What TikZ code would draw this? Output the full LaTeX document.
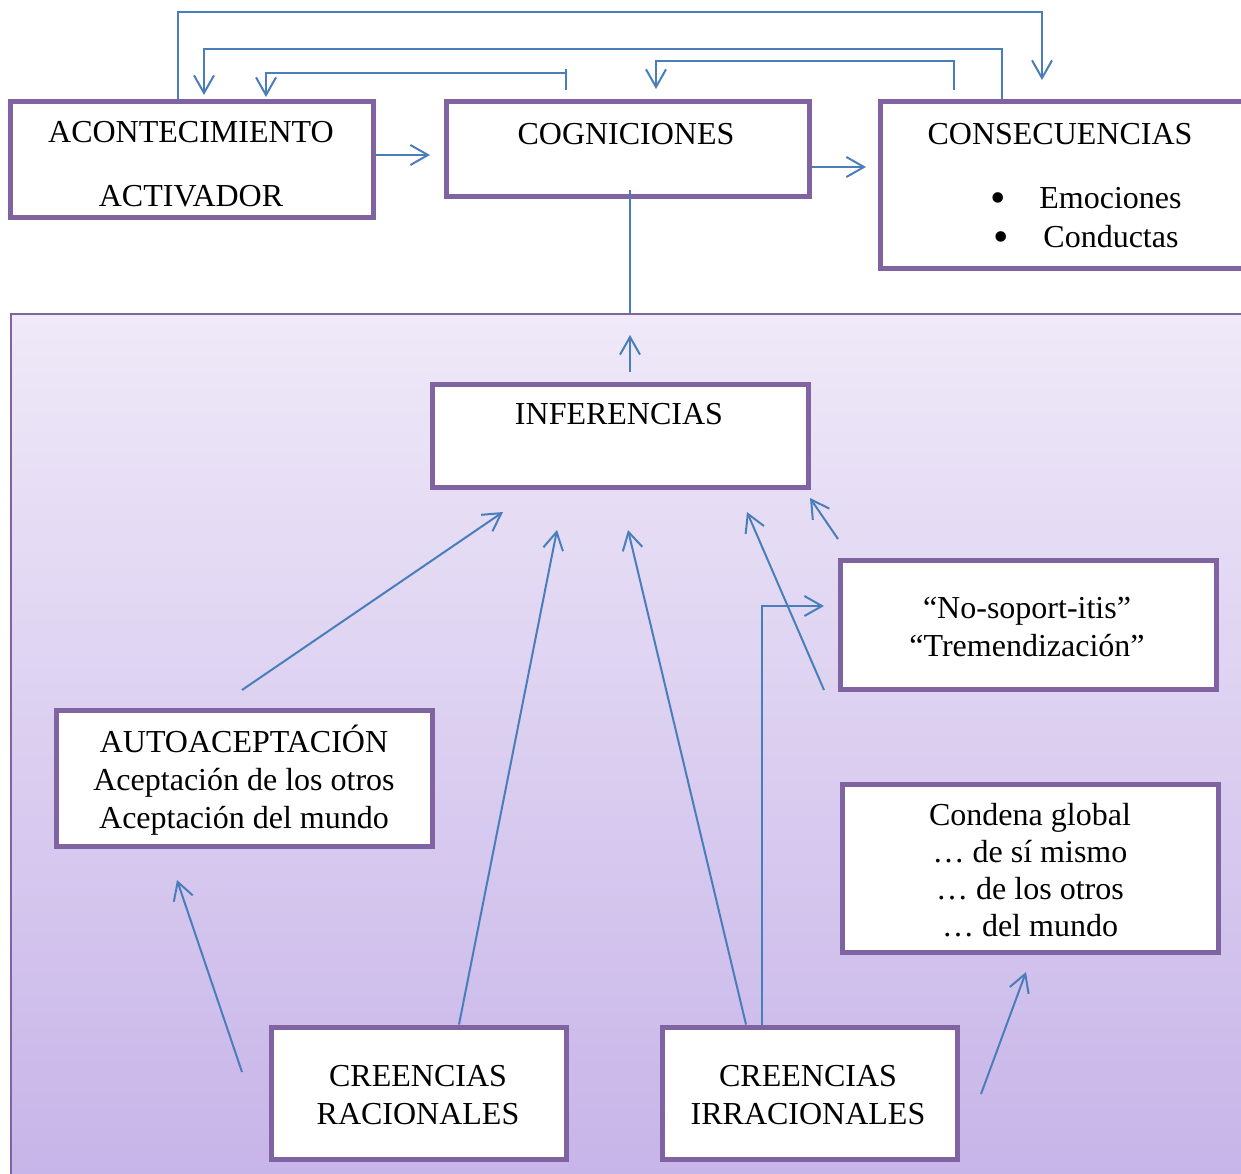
\documentclass[tikz,border=0pt]{standalone}
\usepackage{fontspec}
\setmainfont{Liberation Serif}
\usetikzlibrary{arrows.meta}
\definecolor{lila}{HTML}{8064A2}
\definecolor{azul}{HTML}{4A7EBB}
\definecolor{fondoarriba}{HTML}{EFE9F8}
\definecolor{fondoabajo}{HTML}{C6B3E8}
\begin{document}
\begin{tikzpicture}[x=0.5pt,y=-0.5pt,
  caja/.style={draw=lila,line width=2.5pt,fill=white,inner sep=0pt},
  texto/.style={anchor=base,align=center,inner sep=0pt,font=\fontsize{16}{19}\selectfont},
  bloque/.style={texto,anchor=center},
  punto/.style={anchor=center,inner sep=0pt,font=\fontsize{22}{22}\selectfont},
  flecha/.style={draw=azul,line width=1pt,-{Straight Barb[length=8.8pt,width=10pt]}},
  linea/.style={draw=azul,line width=1pt}]
\useasboundingbox (0,0) rectangle (1241,1173);

% fondo
\shade[top color=fondoarriba,bottom color=fondoabajo,draw=lila,line width=1pt] (11,314) rectangle (1262,1200);

% cajas de arriba
\node[caja,minimum width=181.5pt,minimum height=58pt] (act) at (191.5,159) {};
\node[caja,minimum width=181.5pt,minimum height=47.5pt] (cog) at (627.5,148.5) {};
\node[caja,minimum width=185pt,minimum height=83.5pt] (cons) at (1065,184.5) {};

\node[texto] (tact) at (191,142) {ACONTECIMIENTO};
\node[texto] (tact2) at (191,206) {ACTIVADOR};
\node[texto] (tcog) at (626,144) {COGNICIONES};
\node[texto] (tcons) at (1060,144) {CONSECUENCIAS};
\node[punto] (b1) at (998,203) {\textbullet};
\node[punto] (b2) at (1001,242) {\textbullet};
\node[texto,anchor=base west] (emo) at (1039,208) {Emociones};
\node[texto,anchor=base west] (con) at (1043,247) {Conductas};

% cajas del fondo
\node[caja,minimum width=188pt,minimum height=51.5pt] (inf) at (620,435.5) {};
\node[caja,minimum width=188pt,minimum height=64.5pt] (nosop) at (1028,624.5) {};
\node[caja,minimum width=188pt,minimum height=68pt] (auto) at (244,778) {};
\node[caja,minimum width=188pt,minimum height=84pt] (cond) at (1030,868) {};
\node[caja,minimum width=147.5pt,minimum height=66pt] (rac) at (418.5,1093) {};
\node[caja,minimum width=147.5pt,minimum height=66pt] (irr) at (809.5,1093) {};

\node[texto] (tinf) at (619,424) {INFERENCIAS};
\node[bloque] (tnosop) at (1027,627) {“No-soport-itis”\\“Tremendización”};
\node[bloque] (tauto) at (244,780) {AUTOACEPTACIÓN\\Aceptación de los otros\\Aceptación del mundo};
\node[bloque,font=\fontsize{16}{18.5}\selectfont] (tcond) at (1030,870) {Condena global\\… de sí mismo\\… de los otros\\… del mundo};
\node[bloque] (trac) at (418,1095) {CREENCIAS\\RACIONALES};
\node[bloque] (tirr) at (808,1095) {CREENCIAS\\IRRACIONALES};

% conexiones de arriba
\coordinate (p1) at (1042,80);
\coordinate (p2) at (204,95);
\coordinate (p3) at (266,97);
\coordinate (p4) at (656,89);
\draw[flecha] (act.north -| 178,0) -- (178,12) -| (p1);
\draw[flecha] (cons.north -| 1002,0) -- (1002,49) -| (p2);
\draw[flecha] (566,73) -| (p3);
\draw[linea] (566,69) -- (566,90);
\draw[flecha] (954,90) -- (954,61) -| (p4);
\draw[flecha] (act.east |- 0,155) -- (430,155);
\draw[flecha] (cog.east |- 0,167) -- (866,167);
\draw[linea] (630,190) -- (630,313);
\draw[flecha] (630,372) -- (630,335);

% flechas del fondo
\coordinate (q1) at (242,690);
\coordinate (q2) at (503,512);
\coordinate (q3) at (557,530);
\coordinate (q4) at (628,530);
\coordinate (q5) at (824,690);
\coordinate (q6) at (747,512);
\coordinate (q7) at (838,539);
\coordinate (q8) at (810,498);
\coordinate (q9) at (242,1072);
\coordinate (q10) at (177,880);
\coordinate (q11) at (981,1094);
\coordinate (q12) at (1026,972);
\coordinate (q13) at (824,606);
\draw[flecha] (q1) -- (q2);
\draw[flecha] (rac.north -| 459,0) -- (q3);
\draw[flecha] (irr.north -| 746,0) -- (q4);
\draw[flecha] (q5) -- (q6);
\draw[flecha] (q7) -- (q8);
\draw[flecha] (q9) -- (q10);
\draw[flecha] (q11) -- (q12);
\draw[flecha] (irr.north -| 762,0) |- (q13);
\end{tikzpicture}
\end{document}
